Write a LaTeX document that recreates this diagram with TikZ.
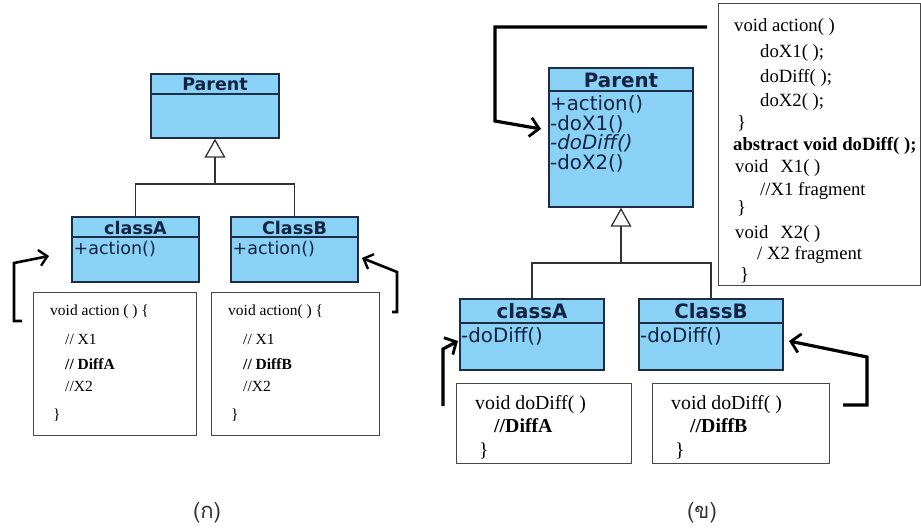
\documentclass[tikz,border=0pt]{standalone}
\usepackage{fontspec}
\setmainfont{Liberation Serif}
\newfontfamily\umlfont{DejaVu Sans}
\newfontfamily\thaifont[Script=Thai]{Loma}
\usetikzlibrary{arrows.meta}
\definecolor{umlfill}{RGB}{137,209,245}
\definecolor{umlline}{RGB}{30,45,70}
\definecolor{umltext}{RGB}{20,35,65}
\definecolor{codeline}{RGB}{70,70,70}
\tikzset{
  umlbox/.style={draw=umlline, line width=1.5pt, fill=umlfill, inner sep=0pt},
  hdrL/.style={font=\umlfont\bfseries\fontsize{17.5}{19}\selectfont, text=umltext, inner sep=0pt},
  hdrR/.style={font=\umlfont\bfseries\fontsize{19.8}{21}\selectfont, text=umltext, inner sep=0pt},
  itemL/.style={font=\umlfont\fontsize{17.5}{19}\selectfont, text=umltext, inner sep=0pt, anchor=mid west},
  itemR/.style={font=\umlfont\fontsize{19.8}{21}\selectfont, text=umltext, inner sep=0pt, anchor=mid west},
  codebox/.style={draw=codeline, line width=1pt, inner sep=0pt},
  codeL/.style={font=\fontsize{15.5}{18}\selectfont, inner sep=0pt, anchor=mid west},
  codeR/.style={font=\fontsize{18.7}{20}\selectfont, inner sep=0pt, anchor=mid west},
  codeS/.style={font=\fontsize{19.8}{21}\selectfont, inner sep=0pt, anchor=mid west},
  genline/.style={draw=black!80, line width=1.3pt},
  genarrow/.style={genline, -{Triangle[open, length=19pt, width=21pt, line width=1.3pt, fill=white]}},
  handL/.style={draw=black, line width=2.6pt, line join=miter, -{Straight Barb[length=8pt, width=16pt, line width=2.4pt]}},
  handR/.style={draw=black, line width=3.2pt, line join=miter, -{Straight Barb[length=9pt, width=19pt, line width=2.8pt]}},
  caption/.style={font=\thaifont\fontsize{22}{24}\selectfont, text=black!80, inner sep=0pt}
}
\begin{document}
\begin{tikzpicture}[x=1pt, y=-1pt]
\useasboundingbox (0,0) rectangle (921,529);

% ---------------- left diagram ----------------
\node[umlbox, minimum width=128pt, minimum height=64pt] (LP) at (215,106) {};
\draw[draw=umlline, line width=1.5pt] ([yshift=-21pt]LP.north west) -- ([yshift=-21pt]LP.north east);
\node[hdrL] (LPh) at (215,84.5) {Parent};

\node[umlbox, minimum width=127pt, minimum height=65pt] (LA) at (135.5,249.5) {};
\draw[draw=umlline, line width=1.5pt] ([yshift=-21pt]LA.north west) -- ([yshift=-21pt]LA.north east);
\node[hdrL] (LAh) at (135.5,227.5) {classA};
\node[itemL] (LAi) at (73.5,252) {+action()};

\node[umlbox, minimum width=127pt, minimum height=65pt] (LB) at (294.5,249.5) {};
\draw[draw=umlline, line width=1.5pt] ([yshift=-21pt]LB.north west) -- ([yshift=-21pt]LB.north east);
\node[hdrL] (LBh) at (294.5,227.5) {ClassB};
\node[itemL] (LBi) at (232.5,252) {+action()};

\coordinate (Lj) at (215,184);
\draw[genline] (LA.north) |- (Lj) -| (LB.north);
\draw[genarrow] (Lj) -- (LP.south);

\node[codebox, minimum width=163pt, minimum height=142pt] (LCA) at (114.5,364) {};
\node[codeL] (la1) at (50,313) {void action ( ) \{};
\node[codeL] (la2) at (65,342) {// X1};
\node[codeL] (la3) at (65,367) {\bfseries // DiffA};
\node[codeL] (la4) at (65,389) {//X2};
\node[codeL] (la5) at (53,417) {\}};

\node[codebox, minimum width=168pt, minimum height=142pt] (LCB) at (295,364) {};
\node[codeL] (lb1) at (228,313) {void action( ) \{};
\node[codeL] (lb2) at (243,342) {// X1};
\node[codeL] (lb3) at (243,367) {\bfseries // DiffB};
\node[codeL] (lb4) at (243,389) {//X2};
\node[codeL] (lb5) at (231,417) {\}};

\coordinate (haS) at (22,321);
\coordinate (ha1) at (14,321);
\coordinate (ha2) at (14,263);
\coordinate (haT) at (49,256);
\draw[handL] (haS) -- (ha1) -- (ha2) -- (haT);

\coordinate (hbS) at (392,312);
\coordinate (hb1) at (397,312);
\coordinate (hb2) at (397,272);
\coordinate (hbT) at (362,258);
\draw[handL] (hbS) -- (hb1) -- (hb2) -- (hbT);

\node[caption] (capA) at (207,513) {(ก)};

% ---------------- right diagram ----------------
\node[umlbox, minimum width=144pt, minimum height=139pt] (RP) at (621,137.5) {};
\draw[draw=umlline, line width=1.5pt] ([yshift=-24pt]RP.north west) -- ([yshift=-24pt]RP.north east);
\node[hdrR] (RPh) at (621,80.5) {Parent};
\node[itemR] (rp1) at (550,108) {+action()};
\node[itemR] (rp2) at (550,128) {-doX1()};
\node[itemR] (rp3) at (550,147) {\itshape -doDiff()};
\node[itemR] (rp4) at (550,167) {-doX2()};

\node[umlbox, minimum width=144pt, minimum height=71pt] (RA) at (532,334.5) {};
\draw[draw=umlline, line width=1.5pt] ([yshift=-25pt]RA.north west) -- ([yshift=-25pt]RA.north east);
\node[hdrR] (RAh) at (532,311.5) {classA};
\node[itemR] (RAi) at (461,340) {-doDiff()};

\node[umlbox, minimum width=144pt, minimum height=71pt] (RB) at (711,334.5) {};
\draw[draw=umlline, line width=1.5pt] ([yshift=-25pt]RB.north west) -- ([yshift=-25pt]RB.north east);
\node[hdrR] (RBh) at (711,311.5) {ClassB};
\node[itemR] (RBi) at (640,340) {-doDiff()};

\coordinate (Rj) at (621,263);
\draw[genline] (RA.north) |- (Rj) -| (RB.north);
\draw[genarrow] (Rj) -- (RP.south);

\node[codebox, minimum width=202pt, minimum height=282pt] (RBig) at (819,145) {};
\node[codeR] (r1) at (734,29) {void action( )};
\node[codeR] (r2) at (760,55) {doX1( );};
\node[codeR] (r3) at (760,80) {doDiff( );};
\node[codeR] (r4) at (760,104) {doX2( );};
\node[codeR] (r5) at (737,126) {\}};
\node[codeR] (r6) at (733,148) {\bfseries abstract void doDiff( );};
\node[codeR] (r7) at (735,170) {void\hspace{12pt}X1( )};
\node[codeR] (r8) at (760,193) {//X1 fragment};
\node[codeR] (r9) at (737,211) {\}};
\node[codeR] (r10) at (735,236) {void\hspace{12pt}X2( )};
\node[codeR] (r11) at (757,257) {/ X2 fragment};
\node[codeR] (r12) at (740,278) {\}};

\node[codebox, minimum width=175pt, minimum height=80pt] (RCA) at (543.5,423) {};
\node[codeS] (ra1) at (475,407) {void doDiff( )};
\node[codeS] (ra2) at (494,430) {\bfseries //DiffA};
\node[codeS] (ra3) at (479,454) {\}};

\node[codebox, minimum width=177pt, minimum height=80pt] (RCB) at (740.5,423) {};
\node[codeS] (rb1) at (671,407) {void doDiff( )};
\node[codeS] (rb2) at (690,430) {\bfseries //DiffB};
\node[codeS] (rb3) at (675,454) {\}};

\coordinate (htS) at (707,27);
\coordinate (ht1) at (495,27);
\coordinate (ht2) at (495,121);
\coordinate (htT) at (541,129);
\draw[handR] (htS) -- (ht1) -- (ht2) -- (htT);

\coordinate (hcS) at (443,406);
\coordinate (hc1) at (443,349);
\coordinate (hcT) at (458,341);
\draw[handR] (hcS) -- (hc1) -- (hcT);

\coordinate (hdS) at (843,405);
\coordinate (hd1) at (867,405);
\coordinate (hd2) at (867,357);
\coordinate (hdT) at (789,341);
\draw[handR] (hdS) -- (hd1) -- (hd2) -- (hdT);

\node[caption] (capB) at (702,513) {(ข)};
\end{tikzpicture}
\end{document}
